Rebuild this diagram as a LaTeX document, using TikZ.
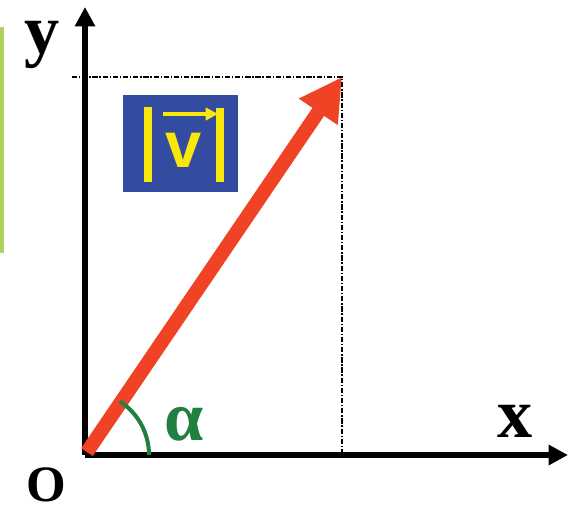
\documentclass[tikz,border=0pt]{standalone}
\usepackage{fontspec}
\setmainfont{Liberation Serif}
\setsansfont{Liberation Sans}
\usetikzlibrary{positioning, calc, arrows.meta}
\definecolor{vecred}{RGB}{240, 66, 36}
\definecolor{anglegreen}{RGB}{32, 128, 64}
\definecolor{boxblue}{RGB}{52, 76, 160}
\definecolor{normyellow}{RGB}{250, 232, 10}
\definecolor{sidegreen}{RGB}{172, 212, 92}

\begin{document}
\begin{tikzpicture}[x=0.02cm, y=0.02cm, every node/.style={inner sep=0pt}]
    \tikzstyle{axisline} = [line width=3.2pt, -{Triangle[length=11pt, width=11pt]}]
    \tikzstyle{guide} = [line width=0.8pt, densely dashdotted]
    \tikzstyle{axislabel} = [font=\fontsize{40}{44}\selectfont\bfseries]
    \useasboundingbox (0,0) rectangle (570,509);

    % Points
    \coordinate (O) at (85,54);
    \coordinate (xend) at (568,54);
    \coordinate (yend) at (85,502);
    \coordinate (tip) at (342,432);
    \coordinate (proj) at (342,54);
    \coordinate (guidestart) at (72,432);

    % Side bar
    \coordinate (bartop) at (2,482);
    \coordinate (barbot) at (2,256);
    \draw [sidegreen, line width=2.3pt] (bartop) -- (barbot);

    % Guides
    \draw [guide] (guidestart) -- (tip) -- (proj);

    % Axes
    \draw [axisline] (O) -- (xend);
    \draw [axisline] (O) -- (yend);

    % Vector
    \draw [vecred, line width=8pt, shorten <=2pt, -{Triangle[length=24pt, width=25pt]}] (O) -- (tip);

    % Angle
    \draw [anglegreen, line width=2.3pt] ($(O)+(64,0)$) arc [start angle=0, end angle=57, radius=64];
    \node (alpha) [axislabel, text=anglegreen] at (184,85) {α};

    % Labels
    \node (xlab) [axislabel] at (515,88) {x};
    \node (ylab) [axislabel] at (42,464) {y};
    \node (olab) [font=\fontsize{29}{32}\selectfont\bfseries] at (46,24) {O};

    % Norm box
    \node (normbox) [fill=boxblue, minimum width=2.3cm, minimum height=1.94cm] at (180.5,365.5) {};
    \node (vlab) [font=\sffamily\fontsize{37}{40}\selectfont\bfseries, text=normyellow] at (184,359) {v};
    \coordinate (lbartop) at (148,402);
    \coordinate (lbarbot) at (148,327);
    \coordinate (rbartop) at (220,401);
    \coordinate (rbarbot) at (220,327);
    \draw [normyellow, line width=4.5pt] (lbartop) -- (lbarbot);
    \draw [normyellow, line width=4.5pt] (rbartop) -- (rbarbot);
    \draw [normyellow, line width=2.3pt, -{Triangle[length=7pt, width=7pt]}] (163,395) -- (218,395);
\end{tikzpicture}
\end{document}
